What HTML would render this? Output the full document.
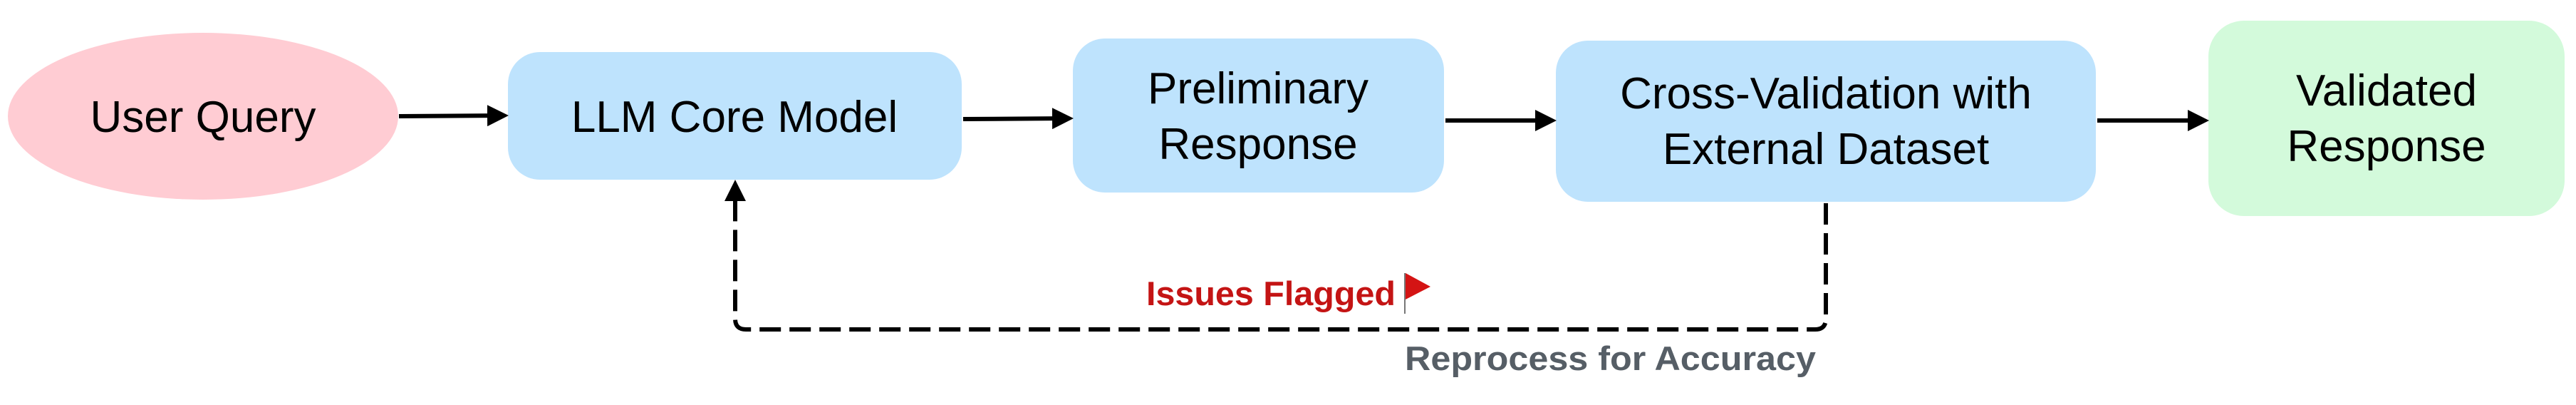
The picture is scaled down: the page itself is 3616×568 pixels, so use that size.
<!DOCTYPE html>
<html><head><meta charset="utf-8"><style>
html,body{margin:0;padding:0;background:#fff;}
svg{display:block;}
text{font-family:"Liberation Sans",sans-serif;}
</style></head><body>
<svg width="3616" height="568" viewBox="0 0 3616 568" xmlns="http://www.w3.org/2000/svg">
<defs>
<marker id="ah" markerWidth="5" markerHeight="5" refX="4" refY="2.5" orient="auto" markerUnits="strokeWidth">
<path d="M0,0 L5,2.5 L0,5 z" fill="#000"/>
</marker>
</defs>
<ellipse cx="285" cy="163" rx="274" ry="117" fill="#ffccd3"/>
<rect x="713" y="73" width="637" height="179" rx="45" fill="#bee3fd"/>
<rect x="1506" y="54" width="521" height="216" rx="45" fill="#bee3fd"/>
<rect x="2184" y="57" width="758" height="226" rx="45" fill="#bee3fd"/>
<rect x="3100" y="29" width="500" height="274" rx="50" fill="#d3fadb"/>

<g font-size="62" fill="#000" text-anchor="middle">
<text x="285" y="185">User Query</text>
<text x="1031" y="185">LLM Core Model</text>
<text x="1766" y="145">Preliminary</text>
<text x="1766" y="223">Response</text>
<text x="2563" y="152">Cross-Validation with</text>
<text x="2563" y="230">External Dataset</text>
<text x="3350" y="148">Validated</text>
<text x="3350" y="226">Response</text>
</g>

<g stroke="#000" stroke-width="6" fill="none">
<line x1="560" y1="163" x2="708" y2="162" marker-end="url(#ah)"/>
<line x1="1352" y1="167" x2="1501" y2="166" marker-end="url(#ah)"/>
<line x1="2029" y1="169" x2="2179" y2="169" marker-end="url(#ah)"/>
<line x1="2944" y1="169" x2="3095" y2="169" marker-end="url(#ah)"/>
<path d="M2563,285 L2563,447 Q2563,462 2548,462 L1047,462 Q1032,462 1032,447 L1032,258" stroke-dasharray="30,12" marker-end="url(#ah)"/>
</g>

<text x="1609" y="428" font-size="47" font-weight="bold" fill="#c41414" textLength="350" lengthAdjust="spacingAndGlyphs">Issues Flagged</text>
<line x1="1972" y1="383" x2="1972" y2="440" stroke="#777" stroke-width="2"/>
<path d="M1973,383 L2008,402 L1973,420 z" fill="#d41414"/>
<text x="1972" y="519" font-size="47" font-weight="bold" fill="#565e66" textLength="577" lengthAdjust="spacingAndGlyphs">Reprocess for Accuracy</text>
</svg>
</body></html>
